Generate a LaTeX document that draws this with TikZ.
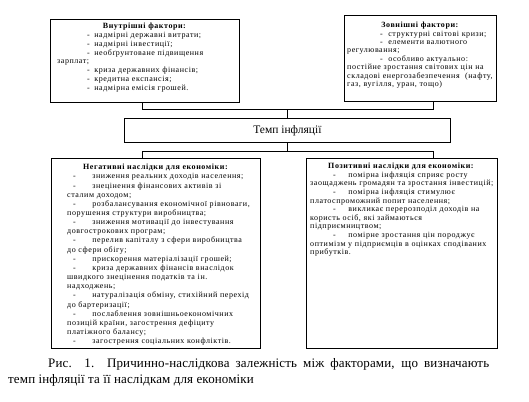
\documentclass[tikz,border=0pt]{standalone}
\usepackage{fontspec}
\setmainfont{Liberation Serif}
\newfontfamily\boxfont[LetterSpace=7]{Liberation Serif}
\newfontfamily\capfont[LetterSpace=1]{Liberation Serif}
\usetikzlibrary{positioning}

\tikzset{
  box/.style={draw, line width=0.8pt, rectangle, inner sep=0pt, anchor=north west},
  txt/.style={anchor=north west, inner sep=0pt, text width=240pt, align=left,
    font=\boxfont\fontsize{8}{8.8}\selectfont},
  link/.style={line width=0.8pt}
}
\newcommand\itm[2]{\hspace*{#1}-\hspace*{#2}}
\newcommand\ttl[2]{\hspace*{#1}\makebox[0pt]{\textbf{#2}}}

\begin{document}
\begin{tikzpicture}[x=1pt,y=-1pt]
\useasboundingbox (0,0) rectangle (529,401);

% boxes
\node[box, minimum width=189pt, minimum height=83pt] (inner) at (50,19) {};
\node[box, minimum width=152pt, minimum height=86pt] (outer) at (344,15) {};
\node[box, minimum width=326pt, minimum height=24pt, font=\fontsize{11.5}{13}\selectfont] (rate) at (124,118) {Темп інфляції};
\node[box, minimum width=209pt, minimum height=190pt] (neg) at (51,158) {};
\node[box, minimum width=191pt, minimum height=190pt] (pos) at (306,158) {};

% texts
\node[txt] (innertxt) at ([shift={(7,4)}]inner.north west) {%
\ttl{87.5pt}{Внутрішні фактори:}\\
\itm{30pt}{4.5pt}надмірні державні витрати;\\
\itm{30pt}{4.5pt}надмірні інвестиції;\\
\itm{30pt}{4.5pt}необґрунтоване підвищення\\
зарплат;\\
\itm{30pt}{4.5pt}криза державних фінансів;\\
\itm{30pt}{4.5pt}кредитна експансія;\\
\itm{30pt}{4.5pt}надмірна емісія грошей.};

\node[txt, font=\boxfont\fontsize{8}{8.4}\selectfont] (outertxt) at ([shift={(3,7)}]outer.north west) {%
\ttl{73pt}{Зовнішні фактори:}\\
\itm{33pt}{5.5pt}структурні світові кризи;\\
\itm{33pt}{5.5pt}елементи валютного\\
регулювання;\\
\itm{33pt}{5.5pt}особливо актуально:\\
постійне зростання світових цін на\\
складові енергозабезпечення \ (нафту,\\
газ, вугілля, уран, тощо)};

\node[txt, font=\boxfont\fontsize{8}{9.15}\selectfont] (negtxt) at ([shift={(16,6)}]neg.north west) {%
\ttl{88.5pt}{Негативні наслідки для економіки:}\\
\itm{6pt}{16.5pt}зниження реальних доходів населення;\\
\itm{6pt}{16.5pt}знецінення фінансових активів зі\\
сталим доходом;\\
\itm{6pt}{16.5pt}розбалансування економічної рівноваги,\\
порушення структури виробництва;\\
\itm{6pt}{16.5pt}зниження мотивації до інвестування\\
довгострокових програм;\\
\itm{6pt}{16.5pt}перелив капіталу з сфери виробництва\\
до сфери обігу;\\
\itm{6pt}{16.5pt}прискорення матеріалізації грошей;\\
\itm{6pt}{16.5pt}криза державних фінансів внаслідок\\
швидкого знецінення податків та ін.\\
надходжень;\\
\itm{6pt}{16.5pt}натуралізація обміну, стихійний перехід\\
до бартеризації;\\
\itm{6pt}{16.5pt}послаблення зовнішньоекономічних\\
позицій країни, загострення дефіциту\\
платіжного балансу;\\
\itm{6pt}{16.5pt}загострення соціальних конфліктів.};

\node[txt, font=\boxfont\fontsize{8}{8.6}\selectfont] (postxt) at ([shift={(4,5)}]pos.north west) {%
\ttl{91pt}{Позитивні наслідки для економіки:}\\
\itm{23pt}{12.5pt}помірна інфляція сприяє росту\\
заощаджень громадян та зростання інвестицій;\\
\itm{23pt}{12.5pt}помірна інфляція стимулює\\
платоспроможний попит населення;\\
\itm{23pt}{12.5pt}викликає перерозподіл доходів на\\
користь осіб, які займаються\\
підприємництвом;\\
\itm{23pt}{12.5pt}помірне зростання цін породжує\\
оптимізм у підприємців в оцінках сподіваних\\
прибутків.};

% connectors
\coordinate (j1) at (142,109);
\coordinate (j2) at (433,109);
\coordinate (k1) at (142,151);
\coordinate (k2) at (433,151);
\draw[link] (inner.south -| j1) |- (j2) -- (outer.south -| j2);
\draw[link] (rate.north) -- (rate.north |- j1);
\draw[link] (neg.north -| k1) |- (k2) -- (pos.north -| k2);
\draw[link] (rate.south) -- (rate.south |- k1);

% caption
\node[anchor=north west, inner sep=0pt, text width=481pt, align=justify,
  font=\capfont\fontsize{13}{16.5}\selectfont] (caption) at (8,358) {%
\hspace*{40pt}Рис. 1. Причинно-наслідкова залежність між факторами, що визначають\linebreak
темп інфляції та її наслідкам для економіки};
\end{tikzpicture}
\end{document}
